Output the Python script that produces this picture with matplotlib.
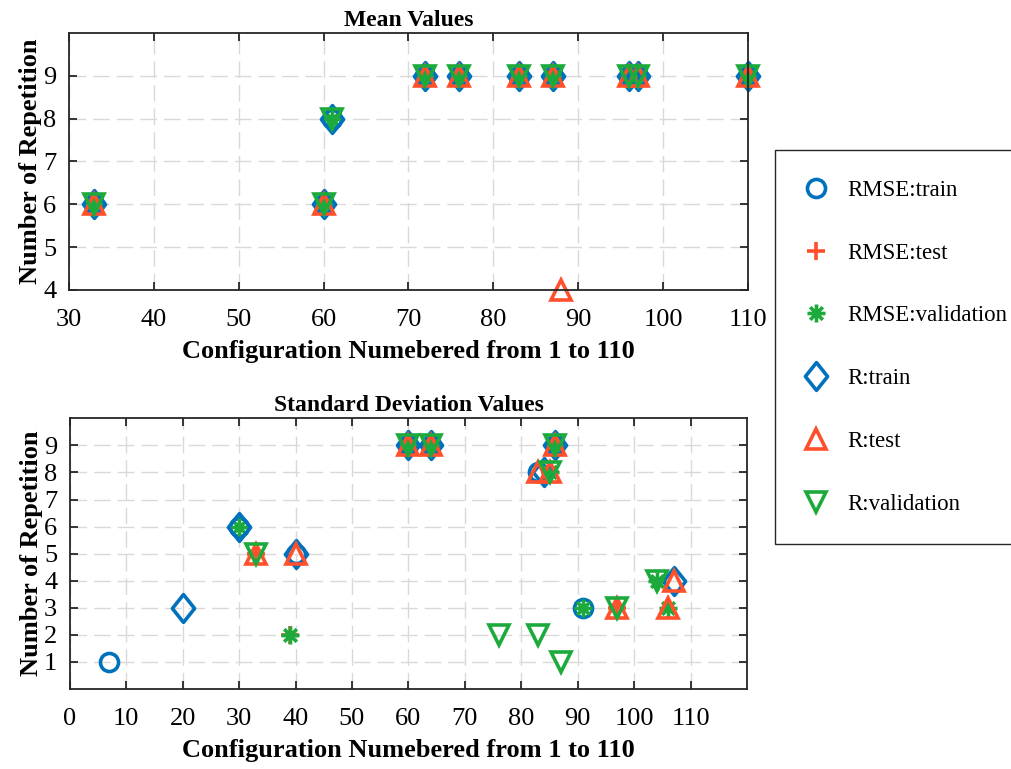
import matplotlib.pyplot as plt
from matplotlib.lines import Line2D
from matplotlib.path import Path

# colours (MATLAB-like)
BLUE = '#0072BD'
RED = '#FF4F2B'
GREEN = '#1DAA3C'

# ---- Mean values (top) ----
mean_rmse_train_x = [33, 60, 61, 72, 76, 83, 87, 96, 97, 110]
mean_rmse_train_y = [6, 6, 8, 9, 9, 9, 9, 9, 9, 9]
mean_rmse_test_x = [33, 60, 72, 76, 83, 87, 96, 97, 110]
mean_rmse_test_y = [6, 6, 9, 9, 9, 9, 9, 9, 9]
mean_rmse_val_x = [33, 60, 61, 72, 76, 83, 87, 96, 97, 110]
mean_rmse_val_y = [6, 6, 8, 9, 9, 9, 9, 9, 9, 9]
mean_r_train_x = [33, 60, 61, 72, 76, 83, 87, 96, 97, 110]
mean_r_train_y = [6, 6, 8, 9, 9, 9, 9, 9, 9, 9]
mean_r_test_x = [33, 60, 72, 76, 83, 87, 88, 96, 97, 110]
mean_r_test_y = [6, 6, 9, 9, 9, 9, 4, 9, 9, 9]
mean_r_val_x = [33, 60, 61, 72, 76, 83, 87, 96, 97, 110]
mean_r_val_y = [6, 6, 8, 9, 9, 9, 9, 9, 9, 9]

# ---- Standard deviation values (bottom) ----
std_rmse_train_x = [7, 30, 40, 60, 64, 83, 86, 91]
std_rmse_train_y = [1, 6, 5, 9, 9, 8, 9, 3]
std_rmse_test_x = [33, 39, 60, 64, 85, 86, 97]
std_rmse_test_y = [5, 2, 9, 9, 8, 9, 3]
std_rmse_val_x = [30, 39, 60, 64, 85, 86, 91, 104, 106]
std_rmse_val_y = [6, 2, 9, 9, 8, 9, 3, 4, 3]
std_r_train_x = [20, 30, 40, 60, 64, 84, 86, 107]
std_r_train_y = [3, 6, 5, 9, 9, 8, 9, 4]
std_r_test_x = [33, 40, 60, 64, 83, 85, 86, 97, 106, 107]
std_r_test_y = [5, 5, 9, 9, 8, 8, 9, 3, 3, 4]
std_r_val_x = [33, 60, 64, 76, 83, 85, 86, 87, 97, 104]
std_r_val_y = [5, 9, 9, 2, 2, 8, 9, 1, 3, 4]

labels = ['RMSE:train', 'RMSE:test', 'RMSE:validation', 'R:train', 'R:test', 'R:validation']

# MATLAB style asterisk: '+' and 'x' strokes together
asterisk = Path([(-1, 0), (1, 0), (0, -1), (0, 1),
                 (-0.7, -0.7), (0.7, 0.7), (-0.7, 0.7), (0.7, -0.7)],
                [Path.MOVETO, Path.LINETO] * 4)
# MATLAB 'd' diamond (a bit taller than wide)
diamond = Path([(0, 1), (0.8, 0), (0, -1), (-0.8, 0), (0, 1)],
               [Path.MOVETO, Path.LINETO, Path.LINETO, Path.LINETO, Path.CLOSEPOLY])

markers = ['o', '+', asterisk, diamond, '^', 'v']
colors = [BLUE, RED, GREEN, BLUE, RED, GREEN]
sizes = [13, 13, 13, 20, 15, 15]

plt.rcParams['font.family'] = 'Liberation Serif'

fig = plt.figure(figsize=(10.11, 7.69), dpi=100)
ax1 = fig.add_axes([0.068, 0.623, 0.672, 0.334])
ax2 = fig.add_axes([0.069, 0.104, 0.670, 0.352])

top = [(mean_rmse_train_x, mean_rmse_train_y), (mean_rmse_test_x, mean_rmse_test_y),
       (mean_rmse_val_x, mean_rmse_val_y), (mean_r_train_x, mean_r_train_y),
       (mean_r_test_x, mean_r_test_y), (mean_r_val_x, mean_r_val_y)]
bottom = [(std_rmse_train_x, std_rmse_train_y), (std_rmse_test_x, std_rmse_test_y),
          (std_rmse_val_x, std_rmse_val_y), (std_r_train_x, std_r_train_y),
          (std_r_test_x, std_r_test_y), (std_r_val_x, std_r_val_y)]


def draw(ax, series):
    for (x, y), m, c, s in zip(series, markers, colors, sizes):
        ax.plot(x, y, linestyle='none', marker=m, markersize=s, markerfacecolor='none',
                markeredgecolor=c, markeredgewidth=2.6, clip_on=False, zorder=3)


def style(ax, title):
    ax.set_title(title, fontsize=17, fontweight='bold', pad=5)
    ax.set_xlabel('Configuration Numebered from 1 to 110', fontsize=19, fontweight='bold',
                  labelpad=6)
    ax.set_ylabel('Number of Repetition', fontsize=19, fontweight='bold', labelpad=1)
    ax.grid(True, color='#d9d9d9', linestyle=(0, (12, 5)), linewidth=1)
    ax.set_axisbelow(True)
    ax.tick_params(direction='in', top=True, right=True, length=6, width=1.3,
                   labelsize=19, color='#262626')
    ax.tick_params(axis='x', pad=14)
    ax.tick_params(axis='y', pad=9)
    for sp in ax.spines.values():
        sp.set_linewidth(1.3)
        sp.set_color('#262626')
        sp.set_zorder(4)


draw(ax1, top)
ax1.set_xlim(30, 110)
ax1.set_ylim(4, 10)
ax1.set_xticks(range(30, 111, 10))
ax1.set_yticks(range(4, 10))
style(ax1, 'Mean Values')

draw(ax2, bottom)
ax2.set_xlim(0, 120)
ax2.set_ylim(0, 10)
ax2.set_xticks(range(0, 111, 10))
ax2.set_yticks(range(1, 10))
style(ax2, 'Standard Deviation Values')

handles = [Line2D([], [], linestyle='none', marker=m, markersize=s, markerfacecolor='none',
                  markeredgecolor=c, markeredgewidth=2.6)
           for m, c, s in zip(markers, colors, sizes)]
fig.legend(handles, labels, loc='upper left', bbox_to_anchor=(0.7666, 0.805),
           borderaxespad=0, fontsize=16.5, labelspacing=1.82, handletextpad=0.85,
           borderpad=1.3, fancybox=False, edgecolor='#262626', framealpha=1,
           handlelength=1.0)

fig.savefig('out.png', dpi=100)
